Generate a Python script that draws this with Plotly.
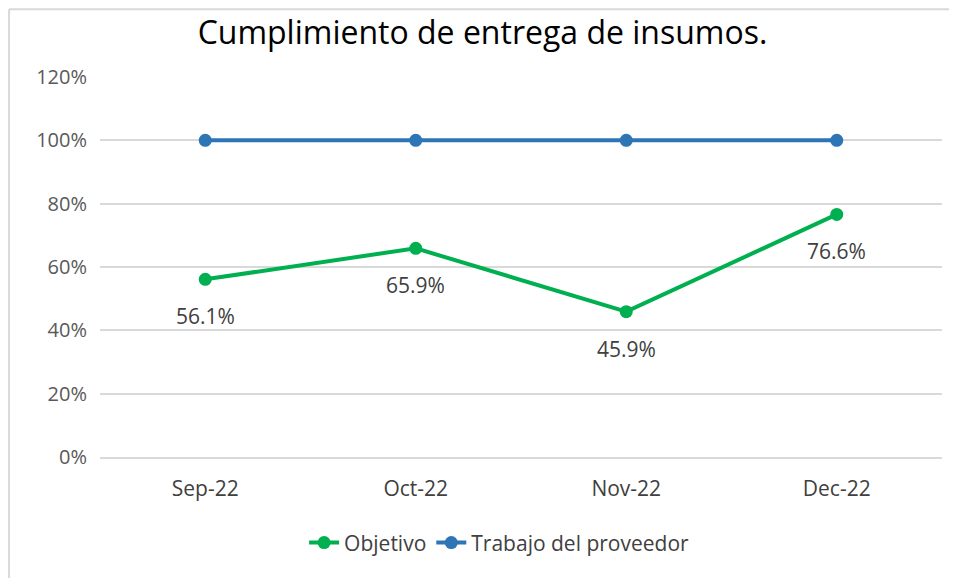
"""Line chart: Cumplimiento de entrega de insumos."""

import plotly.graph_objects as go

# ---------------------------------------------------------------------------
# Data
# ---------------------------------------------------------------------------

meses = ["Sep-22", "Oct-22", "Nov-22", "Dec-22"]
objetivo = [0.561, 0.659, 0.459, 0.766]
trabajo_proveedor = [1.0, 1.0, 1.0, 1.0]
y_ticks = [0, 0.2, 0.4, 0.6, 0.8, 1.0, 1.2]

GREEN = "#00B050"
BLUE = "#2E75B6"
GRID = "#D9D9D9"
TEXT = "#595959"
FONT = "Open Sans, Noto Sans, sans-serif"

fig = go.Figure()

fig.add_trace(go.Scatter(
    x=meses,
    y=objetivo,
    name="Objetivo",
    mode="lines+markers",
    line=dict(color=GREEN, width=4),
    marker=dict(color=GREEN, size=13),
))
fig.add_trace(go.Scatter(
    x=meses,
    y=trabajo_proveedor,
    name="Trabajo del proveedor",
    mode="lines+markers",
    line=dict(color=BLUE, width=4),
    marker=dict(color=BLUE, size=13),
))

# data labels under the green points
for m, v in zip(meses, objetivo):
    fig.add_annotation(
        x=m, y=v, text=f"{v * 100:.1f}%",
        showarrow=False, yshift=-37,
        font=dict(family=FONT, size=21, color="#404040"),
    )

# chart frame (only top and left edges visible in the crop)
fig.add_shape(type="line", xref="paper", yref="paper",
              x0=-0.108, x1=1.02, y0=1.178, y1=1.178,
              line=dict(color=GRID, width=2))
fig.add_shape(type="line", xref="paper", yref="paper",
              x0=-0.108, x1=-0.108, y0=1.178, y1=-0.33,
              line=dict(color=GRID, width=2))

fig.update_layout(
    width=949,
    height=570,
    margin=dict(l=92, r=15, t=69, b=121),
    paper_bgcolor="white",
    plot_bgcolor="white",
    title=dict(
        text="Cumplimiento de entrega de insumos.",
        x=0.5, xanchor="center", xref="container",
        y=0.956, yanchor="middle",
        font=dict(family=FONT, size=32, color="#000000"),
    ),
    font=dict(family=FONT, size=21, color=TEXT),
    xaxis=dict(
        type="category",
        range=[-0.5, 3.5],
        showgrid=False,
        showline=True,
        linecolor=GRID,
        linewidth=2,
        ticks="",
        tickfont=dict(size=21, color="#404040"),
        ticklabelstandoff=12,
    ),
    yaxis=dict(
        range=[0, 1.2],
        tickvals=y_ticks,
        tickformat=".0%",
        showgrid=True,
        gridcolor=GRID,
        gridwidth=2,
        zeroline=False,
        showline=False,
        ticks="",
        ticklabelstandoff=12,
        tickfont=dict(size=20, color=TEXT),
    ),
    showlegend=True,
    legend=dict(
        orientation="h",
        x=0.474, xanchor="center",
        y=-0.226, yanchor="middle",
        font=dict(size=21, color="#404040"),
        itemwidth=30,
        tracegroupgap=0,
    ),
)

fig.write_html("out.html")
